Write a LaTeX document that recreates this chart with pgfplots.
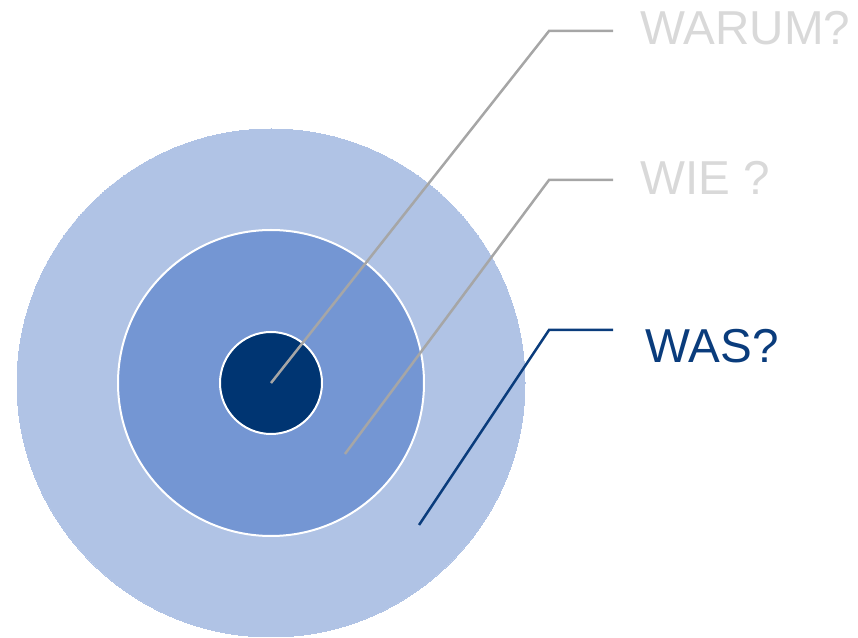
\documentclass[border=0pt]{standalone}
\usepackage{pgfplots}
\pgfplotsset{compat=1.18}
\usepackage{fontspec}
\setmainfont{Liberation Sans}
\definecolor{outerc}{HTML}{B0C3E5}
\definecolor{midc}{HTML}{7496D3}
\definecolor{innerc}{HTML}{003572}
\definecolor{linegray}{HTML}{A6A6A6}
\definecolor{txtgray}{HTML}{D9D9D9}
\definecolor{darkblue}{HTML}{0A3C7C}
\pgfplotsset{base/.style={
  x=0.5pt, y=0.5pt,
  xmin=0, xmax=858, ymin=0, ymax=638,
  hide axis, clip=false,
  anchor=south west, at={(0,0)},
}}
\begin{document}
\begin{tikzpicture}
\begin{axis}[base]
% circles
\addplot[color=outerc, only marks, mark=*, mark size=127pt, mark options={fill=outerc, draw=outerc, line width=0pt}] coordinates {(271,255)};
\addplot[color=white, only marks, mark=*, mark size=76.5pt, mark options={fill=midc, draw=white, line width=1pt}] coordinates {(271,255)};
\addplot[color=white, only marks, mark=*, mark size=25.5pt, mark options={fill=innerc, draw=white, line width=1pt}] coordinates {(271,255)};
\end{axis}
\begin{axis}[base]
% leader lines
\addplot[linegray, line width=1.25pt, mark=none] coordinates {(271,255) (549,607) (613,607)};
\addplot[linegray, line width=1.25pt, mark=none] coordinates {(345,184) (549,458) (613,458)};
\addplot[darkblue, line width=1.25pt, mark=none] coordinates {(419,113) (549,308) (613,308)};
% labels
\node[anchor=base west, inner sep=0pt, text=txtgray, font=\fontsize{23.8}{28}\selectfont] at (axis cs:640,593) {WARUM?};
\node[anchor=base west, inner sep=0pt, text=txtgray, font=\fontsize{23.8}{28}\selectfont] at (axis cs:640,443) {WIE ?};
\node[anchor=base west, inner sep=0pt, text=darkblue, font=\fontsize{23.8}{28}\selectfont] at (axis cs:645,275) {WAS?};
\end{axis}
\pgfresetboundingbox
\path (0,0) rectangle (429pt,319pt);
\end{tikzpicture}
\end{document}
